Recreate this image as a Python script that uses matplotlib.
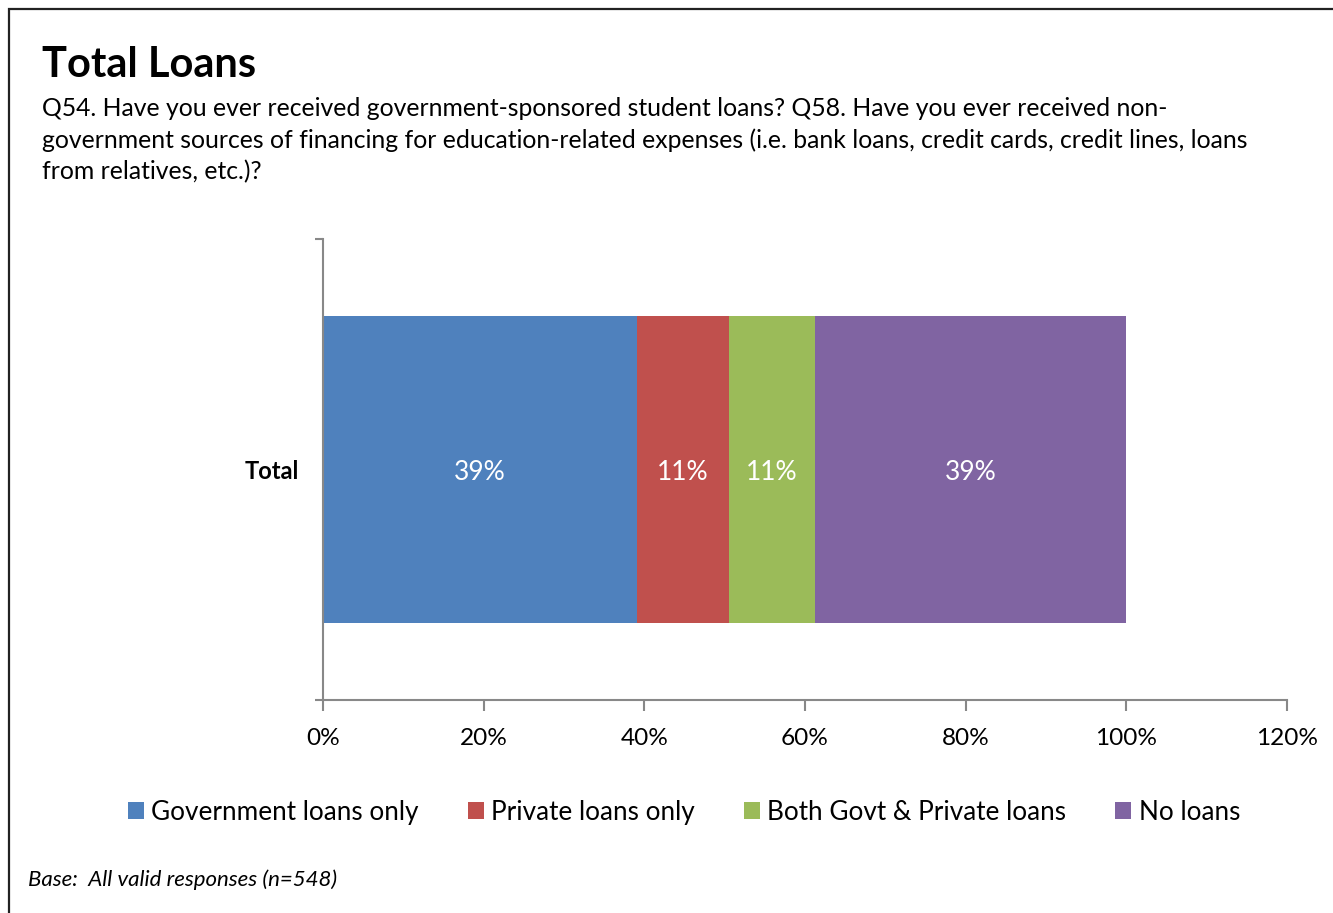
import matplotlib
matplotlib.use("Agg")
import matplotlib.pyplot as plt
from matplotlib.patches import Rectangle
from matplotlib.ticker import FixedLocator

plt.rcParams['font.family'] = ['Lato', 'DejaVu Sans']

categories = ['Total']
series = ['Government loans only', 'Private loans only', 'Both Govt & Private loans', 'No loans']
values = [39.1, 11.4, 10.8, 38.7]
labels = ['39%', '11%', '11%', '39%']
colors = ['#4F81BD', '#C0504D', '#9BBB59', '#8064A2']
xticks = [0, 20, 40, 60, 80, 100, 120]

fig = plt.figure(figsize=(13.33, 9.13), dpi=100)
W, H = 1333, 913

# outer frame (clipped at right/bottom like the source screenshot)
fig.patches.append(Rectangle((9 / W, -0.1), 1.2, 1 - 9 / H + 0.1, transform=fig.transFigure,
                             fill=False, edgecolor='#222222', linewidth=1.6))

ax = fig.add_axes([323 / W, 1 - 700 / H, (1287 - 323) / W, (700 - 239) / H])

left = 0
handles = []
for name, v, lab, c in zip(series, values, labels, colors):
    b = ax.barh(categories, [v], left=[left], height=0.666, color=c, label=name)
    handles.append(b)
    ax.text(left + v / 2, 0, lab, ha='center', va='center_baseline', color='white', fontsize=19)
    left += v

ax.set_xlim(0, 120)
ax.set_ylim(-0.5, 0.5)
ax.set_xticks(xticks)
ax.set_xticklabels([f'{t}%' for t in xticks], fontsize=17.6)
ax.tick_params(axis='x', length=8, width=1.5, color='#888888', pad=12)
ax.tick_params(axis='y', which='major', length=0, pad=17)
ax.yaxis.set_minor_locator(FixedLocator([-0.5, 0.5]))
ax.tick_params(axis='y', which='minor', length=6, width=1.5, color='#888888')
for lbl in ax.get_yticklabels():
    lbl.set_fontweight('bold')
    lbl.set_fontsize(17)
for s in ['top', 'right']:
    ax.spines[s].set_visible(False)
for s in ['left', 'bottom']:
    ax.spines[s].set_color('#888888')
    ax.spines[s].set_linewidth(1.5)

fig.text(42 / W, 1 - 65 / H, 'Total Loans', fontsize=30, fontweight='bold', va='center')
subtitle = ('Q54. Have you ever received government-sponsored student loans? Q58. Have you ever received non-\n'
            'government sources of financing for education-related expenses (i.e. bank loans, credit cards, credit lines, loans\n'
            'from relatives, etc.)?')
fig.text(42 / W, 1 - 97 / H, subtitle, fontsize=17.8, va='top', linespacing=1.43)

fig.legend(handles=handles, labels=series, loc='center', ncol=4, frameon=False,
           bbox_to_anchor=(684 / W, 1 - 812 / H), fontsize=18.8, handlelength=0.62,
           handleheight=0.62, handletextpad=0.27, columnspacing=1.88)

fig.text(28 / W, 1 - 880 / H, 'Base:  All valid responses (n=548)', fontsize=16,
         style='italic', va='center')

fig.savefig('out.png', dpi=100)
